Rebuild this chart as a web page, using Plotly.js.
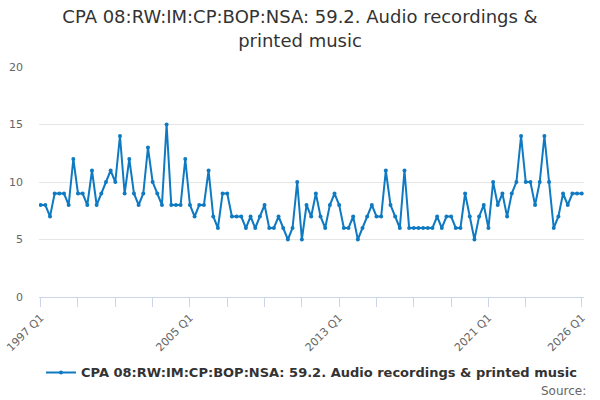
<!DOCTYPE html>
<html>
<head>
<meta charset="utf-8">
<script src="https://cdn.plot.ly/plotly-3.0.1.min.js"></script>
<style>
  html, body { margin: 0; padding: 0; background: #fff; }
  #chart { width: 600px; height: 400px; }
</style>
</head>
<body>
<div id="chart"></div>
<script>
// quarterly values, 1997 Q1 .. 2026 Q1
const firstYear = 1997;
const values = [
  8, 8, 7, 9, 9, 9, 8, 12, 9, 9, 8, 11, 8, 9, 10, 11, 10, 14, 9, 12,
  9, 8, 9, 13, 10, 9, 8, 15, 8, 8, 8, 12, 8,
  7, 8, 8, 11, 7, 6, 9, 9, 7, 7, 7, 6, 7, 6, 7, 8, 6, 6, 7, 6,
  5, 6, 10, 5, 8, 7, 9, 7, 6, 8, 9, 8,
  6, 6, 7, 5, 6, 7, 8, 7, 7, 11, 8, 7, 6, 11, 6, 6, 6, 6, 6, 6,
  7, 6, 7, 7, 6, 6, 9, 7,
  5, 7, 8, 6, 10, 8, 9, 7, 9, 10, 14, 10, 10, 8, 10, 14, 10, 6, 7, 9,
  8, 9, 9, 9
];
const tickLabels = ["1997 Q1", "2005 Q1", "2013 Q1", "2021 Q1", "2026 Q1"];
const seriesName = "CPA 08:RW:IM:CP:BOP:NSA: 59.2. Audio recordings & printed music";

// category labels "YYYY Qn"
const quarters = values.map((v, i) => (firstYear + Math.floor(i / 4)) + " Q" + (i % 4 + 1));

// a tick every 2 years, the last one replaced by the final quarter
let tickVals = [];
for (let i = 0; i < quarters.length - 8; i += 8) tickVals.push(quarters[i]);
tickVals.push(quarters[quarters.length - 1]);
const tickText = tickVals.map(q => tickLabels.includes(q) ? q : "");

const font = "DejaVu Sans, Verdana, sans-serif";
const lineColor = "#0f7ac2";

Plotly.newPlot("chart", [{
  x: quarters,
  y: values,
  type: "scatter",
  mode: "lines+markers",
  name: seriesName,
  line: { color: lineColor, width: 2 },
  marker: { color: lineColor, size: 4 }
}], {
  width: 600,
  height: 400,
  margin: { l: 39, r: 16, t: 67, b: 102.5 },
  paper_bgcolor: "#fff",
  plot_bgcolor: "#fff",
  font: { family: font, color: "#666", size: 11 },
  title: {
    text: "CPA 08:RW:IM:CP:BOP:NSA: 59.2. Audio recordings &<br>printed music",
    font: { family: font, size: 18, color: "#333" },
    x: 0.5, xanchor: "center",
    y: 0.942, yanchor: "middle", yref: "container"
  },
  xaxis: {
    type: "category",
    range: [-0.36, quarters.length - 0.51],
    tickvals: tickVals,
    ticktext: tickText,
    tickangle: -45,
    ticks: "outside",
    ticklen: 9,
    tickcolor: "#ccd6eb",
    showline: true,
    linecolor: "#ccd6eb",
    linewidth: 1,
    showgrid: false,
    zeroline: false,
    tickfont: { family: font, size: 11, color: "#666" }
  },
  yaxis: {
    range: [0, 20],
    dtick: 5,
    showgrid: true,
    gridcolor: "#e6e6e6",
    zeroline: false,
    showline: false,
    ticks: "",
    ticklabelstandoff: 15,
    tickfont: { family: font, size: 11, color: "#666" }
  },
  showlegend: true,
  legend: {
    orientation: "h",
    x: 0.5, xanchor: "center",
    y: -0.328, yanchor: "middle",
    font: { family: font, size: 13, color: "#333", weight: "bold" }
  },
  annotations: [{
    text: "Source:",
    xref: "paper", yref: "paper",
    x: 1.007, y: -0.41,
    xanchor: "right", yanchor: "middle",
    showarrow: false,
    font: { family: font, size: 12, color: "#666" }
  }]
}, { displayModeBar: false, staticPlot: true });
</script>
</body>
</html>
